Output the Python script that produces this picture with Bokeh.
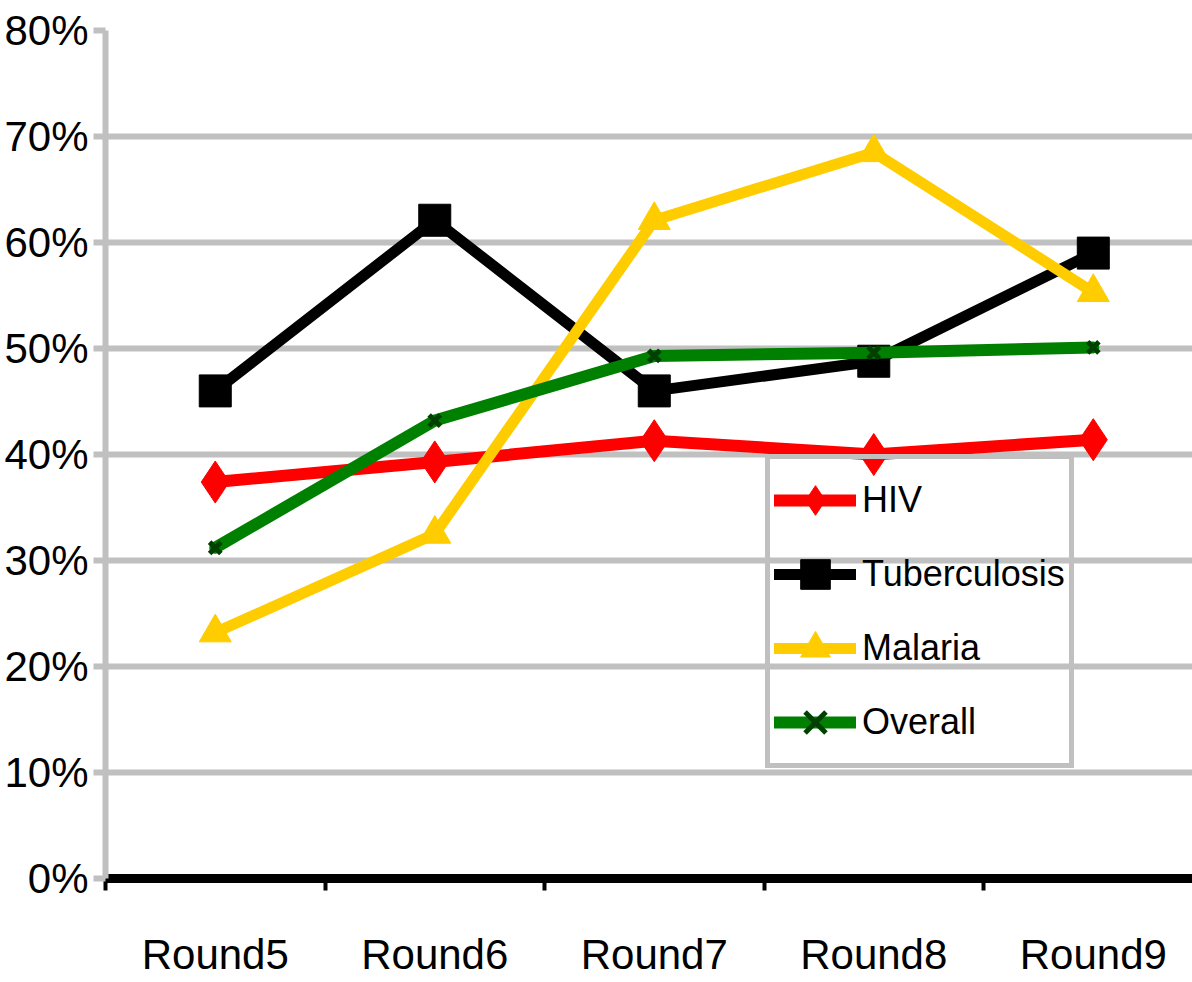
from bokeh.plotting import figure
from bokeh.models import (FixedTicker, Range1d, Legend, LegendItem, NumeralTickFormatter)
from bokeh.embed import file_html
from bokeh.resources import INLINE

rounds = ["Round5", "Round6", "Round7", "Round8", "Round9"]
hiv = [0.374, 0.393, 0.413, 0.400, 0.414]
tuberculosis = [0.460, 0.621, 0.460, 0.488, 0.590]
malaria = [0.232, 0.325, 0.621, 0.685, 0.553]
overall = [0.312, 0.432, 0.493, 0.496, 0.501]
y_ticks = [0.0, 0.1, 0.2, 0.3, 0.4, 0.5, 0.6, 0.7, 0.8]

xs = [i + 0.5 for i in range(len(rounds))]
FONT = "Liberation Sans"
GRAY = "#c0c0c0"

p = figure(width=1192, height=982, output_backend="svg", toolbar_location=None,
           x_range=Range1d(0, 4.952), y_range=Range1d(0, 0.8),
           min_border_left=105, min_border_right=0, min_border_top=30, min_border_bottom=104)
p.outline_line_color = None
p.background_fill_color = "white"

# y axis
p.yaxis.ticker = FixedTicker(ticks=y_ticks)
p.yaxis.formatter = NumeralTickFormatter(format="0%")
p.yaxis.axis_line_color = GRAY
p.yaxis.axis_line_width = 6
p.yaxis.major_tick_line_color = GRAY
p.yaxis.major_tick_line_width = 6
p.yaxis.major_tick_out = 12
p.yaxis.major_tick_in = 0
p.yaxis.minor_tick_line_color = None
p.yaxis.major_label_standoff = 5
p.yaxis.major_label_text_font = FONT
p.yaxis.major_label_text_font_size = "42px"
p.yaxis.major_label_text_color = "black"

# x axis
p.xaxis.ticker = FixedTicker(ticks=xs, minor_ticks=[0, 1, 2, 3, 4])
p.xaxis.major_label_overrides = {x: r for x, r in zip(xs, rounds)}
p.xaxis.axis_line_color = "black"
p.xaxis.axis_line_width = 9
p.xaxis.major_tick_line_color = None
p.xaxis.major_tick_out = 12
p.xaxis.major_tick_in = 0
p.xaxis.minor_tick_line_color = "black"
p.xaxis.minor_tick_line_width = 4
p.xaxis.minor_tick_out = 12
p.xaxis.minor_tick_in = 0
p.xaxis.major_label_standoff = 40
p.xaxis.major_label_text_font = FONT
p.xaxis.major_label_text_font_size = "42px"
p.xaxis.major_label_text_color = "black"

p.xgrid.grid_line_color = None
p.ygrid.ticker = FixedTicker(ticks=y_ticks)
p.ygrid.grid_line_color = GRAY
p.ygrid.grid_line_width = 6

series = [
    ("HIV", hiv, "#ff0000", 12, "diamond", 42, "#ff0000"),
    ("Tuberculosis", tuberculosis, "#000000", 11, "square", 32, "#000000"),
    ("Malaria", malaria, "#ffcc00", 11, "triangle", 32, "#ffcc00"),
    ("Overall", overall, "#008000", 12, "x", 16, "#004000"),
]

items = []
for name, vals, color, lw, marker, size, mcolor in series:
    lr = p.line(xs, vals, line_color=color, line_width=lw, line_join="round", line_cap="round")
    if marker == "x":
        mr = p.scatter(xs, vals, marker="x", size=size, line_color=mcolor, line_width=5)
    else:
        mr = p.scatter(xs, vals, marker=marker, size=size, fill_color=mcolor, line_color=mcolor)
    items.append(LegendItem(label=name, renderers=[lr, mr]))

legend = Legend(items=items, location=(660, 110))
legend.border_line_color = GRAY
legend.border_line_alpha = 1.0
legend.border_line_width = 5
legend.background_fill_alpha = 0
legend.glyph_width = 82
legend.glyph_height = 74
legend.label_height = 40
legend.spacing = 0
legend.padding = 4
legend.margin = 0
legend.label_standoff = 6
legend.label_text_font = FONT
legend.label_text_font_size = "36px"
legend.label_text_color = "black"
p.add_layout(legend, "center")

open("out.html", "w").write(file_html(p, INLINE))
